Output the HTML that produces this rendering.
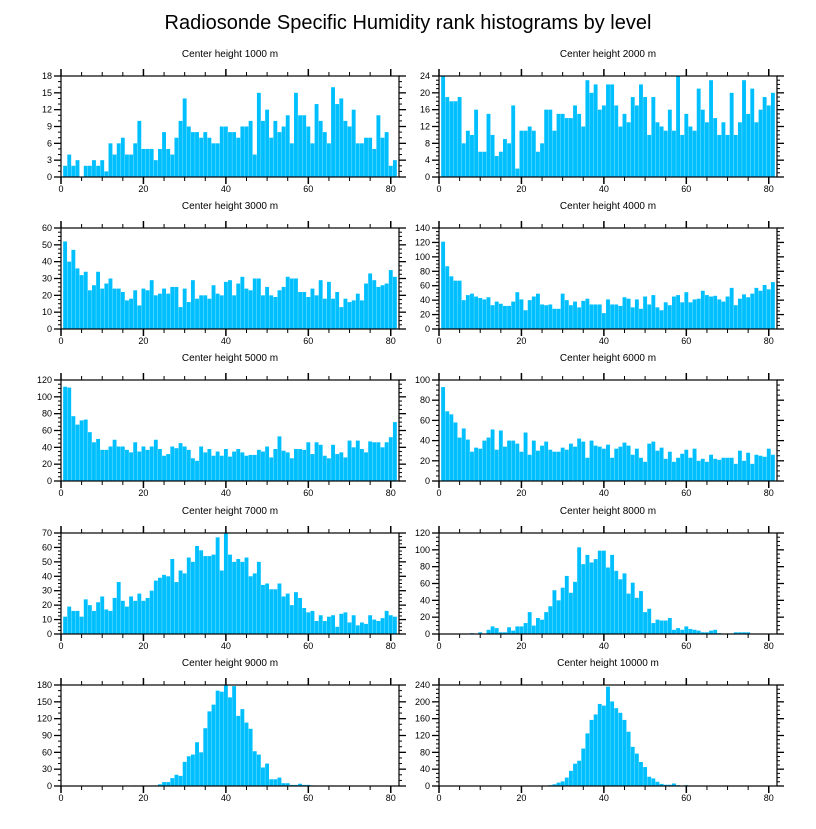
<!DOCTYPE html>
<html><head><meta charset="utf-8"><style>
body{margin:0;background:#fff;}
svg text{font-family:"Liberation Sans",sans-serif;fill:#000;}
</style></head><body>
<svg id="chart" width="816" height="824" xmlns="http://www.w3.org/2000/svg">
<text x="408" y="29" text-anchor="middle" font-size="20">Radiosonde Specific Humidity rank histograms by level</text>
</svg>
<script>
const titles=["Center height 1000 m","Center height 2000 m","Center height 3000 m","Center height 4000 m","Center height 5000 m","Center height 6000 m","Center height 7000 m","Center height 8000 m","Center height 9000 m","Center height 10000 m"];
const yMax=[18,24,60,140,120,100,70,120,180,240];
const yStep=[3,4,10,20,20,20,10,20,30,40];
const xTicks=[0,20,40,60,80];
const h1000=[2,4,2,3,0,2,2,3,2,3,1,6,4,6,7,4,4,6,10,5,5,5,3,5,8,5,4,7,10,14,9,8,8,7,8,7,6,6,9,9,8,8,7,9,9,10,4,15,10,12,7,10,8,9,11,6,15,11,11,9,6,13,10,8,6,16,13,14,10,9,12,6,6,7,7,5,11,7,8,2,3];
const h2000=[24,19,18,18,19,8,11,10,16,6,6,15,10,5,6,9,8,17,2,11,11,12,11,6,8,16,16,11,15,15,14,14,17,15,12,23,20,22,16,17,22,22,17,12,15,13,19,17,22,19,10,19,13,12,11,16,11,24,10,15,12,11,21,16,13,23,14,10,13,10,20,10,13,23,15,21,13,16,19,17,20];
const h3000=[52,40,47,36,32,34,23,26,34,24,27,30,24,24,22,17,18,23,14,24,23,29,20,21,24,21,25,25,13,24,16,29,18,20,20,18,26,21,20,28,29,20,27,31,24,23,30,30,20,25,20,19,23,25,31,30,30,22,22,19,24,20,29,18,28,18,22,13,18,16,17,21,17,27,33,29,25,26,27,35,31];
const h4000=[121,87,73,67,67,40,47,49,45,43,41,44,33,38,35,32,32,38,51,41,26,40,45,49,34,33,34,28,28,49,40,33,38,30,39,42,34,34,34,22,41,34,34,32,44,42,30,41,28,45,34,47,30,26,37,33,45,47,37,51,37,41,42,53,47,45,46,41,38,45,57,33,42,48,44,49,57,53,61,55,65];
const h5000=[112,111,77,67,72,73,58,46,50,37,37,41,49,41,41,37,34,46,35,41,37,41,49,38,30,32,41,39,45,41,37,27,24,41,34,38,30,35,30,38,29,35,38,34,30,31,31,37,35,41,28,38,53,36,34,27,38,38,37,46,32,46,43,30,27,43,32,34,28,48,40,48,38,34,47,46,46,40,46,52,70];
const h6000=[93,69,66,58,43,52,41,29,33,32,40,43,51,31,50,34,40,40,37,29,48,26,40,30,35,39,31,29,29,33,31,37,34,42,39,23,40,35,34,32,36,23,32,34,38,35,26,32,23,19,37,39,30,33,22,29,19,23,27,31,23,32,20,22,19,26,22,21,23,23,23,17,30,20,28,17,26,25,24,32,26];
const h7000=[12,19,16,16,12,24,20,16,22,26,17,16,25,36,23,19,26,23,28,23,25,30,37,39,41,40,52,36,44,42,53,50,61,58,54,54,55,67,44,70,55,50,52,50,53,40,42,50,34,35,31,31,35,26,28,20,29,25,18,15,16,9,13,9,12,13,5,14,15,8,13,6,8,7,13,10,9,11,16,13,12];
const h8000=[0,0,0,0,0,0,0,1,0,2,0,5,9,7,2,2,8,4,9,9,13,26,10,19,17,26,33,52,40,55,69,49,62,103,83,94,85,89,99,99,79,94,75,65,72,48,61,43,51,26,30,13,17,16,16,19,5,7,5,9,6,5,4,2,2,4,5,1,0,0,0,2,2,2,2,0,0,0,0,0,0];
const h9000=[0,0,0,0,0,0,0,0,0,0,0,0,0,0,0,0,0,1,0,1,0,1,1,3,7,7,14,20,18,43,53,56,78,60,103,133,145,170,168,180,158,178,125,137,113,102,62,56,33,40,12,12,15,5,5,2,2,4,2,2,1,0,0,0,0,1,0,0,0,0,0,0,0,0,0,0,0,0,0,0,0];
const h10000=[0,0,0,0,0,0,0,0,0,0,0,0,0,0,0,0,0,0,0,0,0,0,0,0,0,1,2,4,8,11,20,36,53,60,89,125,157,170,195,191,236,201,185,174,157,129,93,77,57,45,22,18,10,5,3,3,6,2,1,2,1,1,0,0,0,0,0,0,0,0,0,0,0,0,0,0,0,0,0,0,0];
const series=[h1000,h2000,h3000,h4000,h5000,h6000,h7000,h8000,h9000,h10000];

const NS="http://www.w3.org/2000/svg";
const svg=document.getElementById('chart');
function mk(tag,attrs,parent){const e=document.createElementNS(NS,tag);for(const k in attrs)e.setAttribute(k,attrs[k]);(parent||svg).appendChild(e);return e;}
const lefts=[61,439], W=338, H=101, tops=[76,228,380,533,685], XMAX=82;
series.forEach((data,p)=>{
  const x0=lefts[p%2], y0=tops[Math.floor(p/2)], yb=y0+H;
  const g=mk('g',{});
  
  
  const xs=v=>x0+v/XMAX*W, ys=v=>yb-v/yMax[p]*H;
  const t=mk('text',{x:x0+W/2,y:y0-19,'text-anchor':'middle','font-size':10},g);
  t.textContent=titles[p];
  
  
  data.forEach((v,i)=>{
    const c=i+1, bw=0.94;
    const r=mk('rect',{x:xs(c-bw/2),y:ys(v),width:xs(bw)-x0,height:yb-ys(v),fill:'#00bfff'},g);
    
    
  });
  const f=mk('rect',{x:x0,y:y0,width:W,height:H,fill:'none',stroke:'#000','stroke-width':1.2},g);
  
  
  for(let v=0;v<=XMAX;v+=5){
    const maj=v%20===0, L=maj?7:4, x=xs(v);
    mk('line',{x1:x,x2:x,y1:yb,y2:yb+L,stroke:'#000','stroke-width':maj?1.5:1},g);
    mk('line',{x1:x,x2:x,y1:y0,y2:y0-L,stroke:'#000','stroke-width':maj?1.5:1},g);
  }
  xTicks.forEach(v=>{
    const tx=mk('text',{x:xs(v),y:yb+15,'text-anchor':'middle','font-size':9},g);
    tx.textContent=v;
    
    
  });
  const st=yStep[p], minor=st/((st%3===0&&st%4!==0)?3:4);
  for(let v=0;v<=yMax[p]+1e-9;v+=minor){
    const maj=Math.abs(v/st-Math.round(v/st))<1e-6, L=maj?7:3, y=ys(v);
    mk('line',{x1:x0,x2:x0-L,y1:y,y2:y,stroke:'#000','stroke-width':maj?1.3:1},g);
    mk('line',{x1:x0+W,x2:x0+W+L,y1:y,y2:y,stroke:'#000','stroke-width':maj?1.3:1},g);
  }
  for(let v=0;v<=yMax[p];v+=st){
    const ty=mk('text',{x:x0-9,y:ys(v)+3,'text-anchor':'end','font-size':9},g);
    ty.textContent=v;
    
    
  }
});
</script>
</body></html>
